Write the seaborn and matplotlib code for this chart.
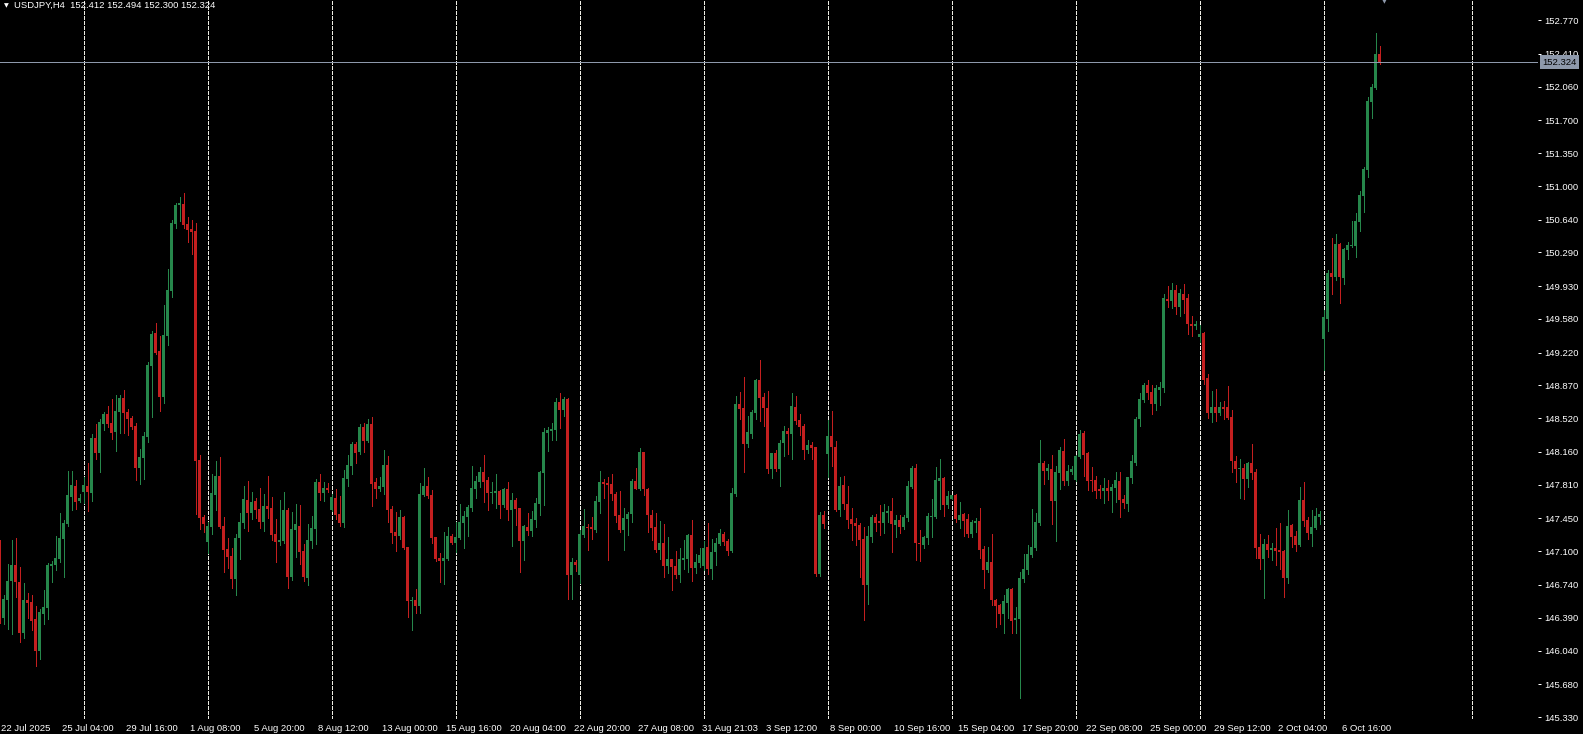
import numpy as np
import matplotlib
matplotlib.use("Agg")
import matplotlib.pyplot as plt
import matplotlib.transforms as mtransforms
import seaborn as sns

# USDJPY H4 candles (oldest first)
symbol = "USDJPY,H4"
opens = [
    147.149, 146.391, 146.580, 146.782, 146.953, 146.772, 146.227, 146.580, 146.558, 146.377,
    146.039, 146.430, 146.494, 146.943, 146.953, 147.017, 147.231, 147.391, 147.679, 147.797,
    147.640, 147.733, 147.797, 147.722, 148.309, 148.149, 148.459, 148.565, 148.469, 148.373,
    148.587, 148.736, 148.587, 148.523, 148.437, 147.989, 148.096, 148.320, 149.078, 149.430,
    149.238, 148.747, 149.398, 149.879, 150.594, 150.797, 150.808, 150.594, 150.541, 150.519,
    148.074, 147.466, 147.199, 147.359, 147.701, 147.904, 147.370, 147.124, 147.049, 146.804,
    147.242, 147.402, 147.647, 147.508, 147.637, 147.551, 147.412, 147.583, 147.562, 147.284,
    147.199, 147.210, 147.541, 146.825, 147.327, 147.370, 147.103, 146.815, 147.210, 147.338,
    147.839, 147.722, 147.775, 147.541, 147.669, 147.498, 147.402, 147.872, 148.010, 148.245,
    148.160, 148.427, 148.277, 148.458, 147.839, 147.764, 147.786, 148.020, 147.551, 147.305,
    147.262, 147.465, 147.145, 146.568, 146.579, 146.515, 147.700, 147.796, 147.700, 147.252,
    147.028, 146.995, 147.017, 147.262, 147.188, 147.241, 147.401, 147.465, 147.561, 147.764,
    147.839, 147.946, 147.860, 147.721, 147.721, 147.743, 147.593, 147.764, 147.540, 147.647,
    147.561, 147.209, 147.358, 147.316, 147.433, 147.604, 147.935, 148.362, 148.383, 148.394,
    148.693, 148.608, 148.725, 146.846, 146.985, 146.846, 147.273, 147.358, 147.358, 147.326,
    147.625, 147.839, 147.829, 147.818, 147.712, 147.487, 147.327, 147.445, 147.498, 147.850,
    147.765, 148.160, 147.765, 147.487, 147.359, 147.114, 147.189, 146.943, 147.018, 146.943,
    146.847, 147.007, 147.018, 147.274, 146.922, 146.975, 146.943, 147.146, 146.911, 147.092,
    147.178, 147.285, 147.209, 147.102, 147.711, 148.672, 148.629, 148.245, 148.351, 148.576,
    148.928, 148.746, 148.629, 147.978, 148.149, 147.978, 148.255, 148.384, 148.351, 148.640,
    148.501, 148.437, 148.181, 148.234, 148.213, 146.857, 147.487, 148.138, 148.330, 148.213,
    147.540, 147.807, 147.605, 147.445, 147.402, 147.380, 147.231, 146.740, 147.252, 147.466,
    147.423, 147.402, 147.509, 147.530, 147.380, 147.434, 147.359, 147.455, 147.786, 147.989,
    147.188, 147.167, 147.242, 147.466, 147.466, 147.850, 147.882, 147.594, 147.658, 147.701,
    147.434, 147.498, 147.444, 147.284, 147.402, 147.423, 147.124, 146.900, 146.985, 146.580,
    146.526, 146.430, 146.548, 146.697, 146.366, 146.377, 146.804, 146.900, 147.060, 147.135,
    147.402, 148.042, 147.957, 147.978, 147.637, 147.936, 148.170, 147.850, 147.946, 147.861,
    148.106, 148.363, 148.149, 147.861, 147.861, 147.765, 147.743, 147.775, 147.743, 147.775,
    147.850, 147.658, 147.604, 147.882, 148.042, 148.512, 148.715, 148.875, 148.800, 148.672,
    148.822, 148.843, 149.793, 149.772, 149.889, 149.708, 149.847, 149.804, 149.527, 149.505,
    149.388, 149.430, 148.949, 148.576, 148.640, 148.576, 148.640, 148.640, 148.533, 148.063,
    147.978, 147.989, 147.871, 148.042, 147.946, 147.145, 147.017, 147.177, 147.113, 147.134,
    147.113, 147.102, 146.814, 147.380, 147.262, 147.166, 147.647, 147.433, 147.284, 147.348,
    147.465, 149.367, 149.580, 150.071, 150.028, 150.381, 150.018, 150.317, 150.359, 150.359,
    150.616, 150.893, 151.171, 151.897, 152.046, 152.412,
]
highs = [
    147.220, 146.633, 146.964, 147.220, 147.241, 146.932, 146.761, 146.654, 146.633, 146.515,
    146.487, 146.686, 146.975, 146.996, 147.263, 147.508, 147.434, 147.957, 147.957, 147.861,
    147.711, 147.896, 148.042, 148.352, 148.459, 148.512, 148.587, 148.651, 148.726, 148.768,
    148.768, 148.822, 148.619, 148.544, 148.470, 148.192, 148.373, 149.121, 149.452, 149.537,
    149.398, 149.729, 150.114, 150.637, 150.818, 150.882, 150.925, 150.669, 150.637, 150.605,
    148.128, 147.487, 147.412, 147.925, 148.064, 148.106, 147.466, 147.242, 147.135, 147.284,
    147.509, 147.797, 147.850, 147.733, 147.669, 147.775, 147.711, 147.904, 147.679, 147.444,
    147.647, 147.733, 147.562, 147.519, 147.605, 147.594, 147.178, 147.391, 147.476, 147.872,
    147.925, 147.839, 147.829, 147.711, 147.765, 147.690, 147.968, 148.128, 148.267, 148.267,
    148.459, 148.469, 148.512, 148.533, 147.882, 147.892, 148.181, 148.117, 147.583, 147.519,
    147.540, 147.476, 147.145, 146.611, 146.697, 147.828, 147.988, 147.892, 147.754, 147.252,
    147.081, 147.305, 147.358, 147.284, 147.412, 147.604, 147.529, 147.593, 148.010, 147.903,
    147.999, 148.127, 147.892, 147.839, 147.924, 147.754, 147.775, 147.839, 147.721, 147.668,
    147.561, 147.380, 147.508, 147.529, 147.668, 147.956, 148.415, 148.426, 148.469, 148.736,
    148.789, 148.746, 148.736, 147.028, 147.006, 147.327, 147.551, 147.390, 147.465, 147.689,
    147.956, 147.871, 147.893, 147.925, 147.733, 147.744, 147.562, 147.520, 147.872, 147.989,
    148.203, 148.165, 147.776, 147.541, 147.509, 147.423, 147.391, 147.253, 147.020, 147.103,
    147.135, 147.221, 147.285, 147.434, 147.071, 147.135, 147.210, 147.402, 147.231, 147.242,
    147.338, 147.306, 147.230, 147.775, 148.757, 148.800, 148.960, 148.544, 148.608, 148.939,
    149.141, 148.789, 148.810, 148.150, 148.181, 148.287, 148.437, 148.415, 148.789, 148.757,
    148.565, 148.458, 148.287, 148.266, 148.215, 147.519, 147.529, 148.501, 148.597, 148.277,
    147.892, 147.903, 147.797, 147.562, 147.455, 147.402, 147.359, 147.370, 147.487, 147.498,
    147.594, 147.605, 147.583, 147.669, 147.487, 147.487, 147.487, 147.850, 148.010, 148.032,
    147.327, 147.263, 147.509, 147.658, 147.999, 148.085, 147.893, 147.744, 147.705, 147.712,
    147.626, 147.509, 147.498, 147.434, 147.455, 147.562, 147.156, 147.145, 147.284, 146.590,
    146.537, 146.633, 146.708, 146.708, 146.505, 146.879, 147.071, 147.167, 147.551, 147.508,
    148.288, 148.064, 148.032, 148.128, 148.010, 148.213, 148.299, 148.021, 148.010, 148.128,
    148.395, 148.384, 148.160, 147.999, 147.904, 147.807, 147.882, 147.861, 147.818, 147.946,
    147.946, 147.701, 147.895, 148.128, 148.533, 148.790, 148.897, 148.929, 148.875, 148.875,
    148.907, 149.847, 149.932, 149.964, 149.943, 149.900, 149.954, 149.847, 149.612, 149.558,
    149.516, 149.441, 148.992, 148.811, 148.832, 148.693, 148.704, 148.864, 148.608, 148.117,
    148.085, 148.031, 148.053, 148.245, 147.978, 147.284, 147.230, 147.273, 147.188, 147.348,
    147.401, 147.113, 147.540, 147.390, 147.316, 147.786, 147.839, 147.465, 147.540, 147.561,
    147.529, 149.676, 150.103, 150.445, 150.488, 150.392, 150.338, 150.402, 150.626, 150.712,
    150.947, 151.203, 151.950, 152.089, 152.634, 152.494,
]
lows = [
    146.331, 146.323, 146.266, 146.216, 146.615, 146.135, 146.177, 146.391, 146.259, 145.878,
    145.953, 146.327, 146.380, 146.775, 146.903, 146.989, 146.829, 147.373, 147.540, 147.548,
    147.629, 147.612, 147.530, 147.637, 148.085, 147.946, 148.395, 148.430, 148.299, 148.170,
    148.363, 148.363, 148.341, 148.405, 147.861, 147.818, 147.872, 148.267, 148.534, 149.206,
    148.598, 148.683, 149.302, 149.815, 150.551, 150.626, 150.551, 150.402, 150.274, 147.498,
    147.338, 147.306, 147.081, 147.284, 147.541, 147.350, 146.879, 146.921, 146.708, 146.633,
    147.017, 147.348, 147.316, 147.444, 147.455, 147.348, 147.316, 147.455, 147.220, 146.985,
    147.167, 147.188, 146.708, 146.793, 147.039, 146.964, 146.782, 146.740, 147.135, 147.178,
    147.647, 147.637, 147.733, 147.530, 147.444, 147.370, 147.359, 147.797, 147.925, 148.042,
    148.138, 148.160, 148.266, 147.583, 147.668, 147.743, 147.711, 147.412, 147.188, 147.102,
    147.230, 147.124, 146.398, 146.259, 146.440, 146.440, 147.690, 147.668, 147.188, 146.995,
    146.771, 146.750, 147.006, 147.177, 147.092, 147.230, 147.134, 147.262, 147.529, 147.668,
    147.786, 147.625, 147.540, 147.615, 147.561, 147.455, 147.572, 147.433, 147.156, 147.380,
    146.878, 147.006, 147.273, 147.262, 147.358, 147.487, 147.593, 148.170, 148.287, 148.287,
    148.415, 148.544, 146.590, 146.590, 146.889, 146.761, 147.252, 147.113, 147.230, 147.305,
    147.508, 147.668, 147.007, 147.648, 147.413, 147.306, 147.114, 147.274, 147.413, 147.760,
    147.754, 147.701, 147.306, 147.221, 147.092, 147.018, 146.826, 146.868, 146.687, 146.815,
    146.772, 146.911, 146.879, 146.783, 146.868, 146.932, 146.900, 146.858, 146.804, 146.954,
    147.167, 147.167, 147.059, 147.090, 147.689, 148.512, 147.946, 148.213, 148.309, 148.512,
    148.490, 148.437, 147.935, 147.882, 147.956, 147.796, 148.117, 148.138, 148.084, 148.458,
    148.341, 148.084, 148.149, 148.084, 146.835, 146.835, 147.348, 147.892, 148.010, 147.529,
    147.476, 147.551, 147.348, 147.220, 147.167, 146.825, 146.366, 146.537, 147.199, 147.316,
    147.274, 147.295, 147.413, 147.092, 147.252, 147.295, 147.338, 147.423, 147.776, 147.007,
    146.996, 147.135, 147.178, 147.252, 147.460, 147.551, 147.477, 147.562, 147.654, 147.413,
    147.348, 147.263, 147.252, 147.252, 147.306, 147.028, 146.708, 146.879, 146.526, 146.291,
    146.323, 146.227, 146.387, 146.227, 146.227, 145.530, 146.772, 146.857, 147.039, 147.113,
    147.380, 147.818, 147.872, 147.391, 147.210, 147.765, 147.807, 147.807, 147.925, 147.850,
    148.096, 147.904, 147.754, 147.743, 147.669, 147.669, 147.615, 147.647, 147.519, 147.626,
    147.466, 147.562, 147.530, 147.829, 148.021, 148.437, 148.694, 148.726, 148.566, 148.608,
    148.662, 148.800, 149.708, 149.697, 149.633, 149.612, 149.644, 149.420, 149.398, 149.473,
    149.334, 148.886, 148.522, 148.480, 148.490, 148.554, 148.512, 148.510, 147.946, 147.839,
    147.668, 147.658, 147.786, 147.871, 147.028, 146.910, 146.600, 147.038, 147.006, 146.953,
    146.910, 146.611, 146.761, 147.145, 147.102, 147.160, 147.369, 147.230, 147.156, 147.340,
    147.391, 149.035, 149.452, 149.847, 149.996, 149.751, 149.954, 150.221, 150.349, 150.242,
    150.520, 150.723, 151.096, 151.726, 152.040, 152.300,
]
closes = [
    146.384, 146.590, 146.782, 146.953, 146.772, 146.227, 146.580, 146.551, 146.355, 146.039,
    146.451, 146.505, 146.953, 146.964, 147.028, 147.241, 147.402, 147.701, 147.807, 147.629,
    147.669, 147.807, 147.733, 148.309, 148.149, 148.480, 148.565, 148.459, 148.363, 148.597,
    148.736, 148.576, 148.512, 148.427, 147.989, 148.106, 148.331, 149.089, 149.420, 149.217,
    148.747, 149.409, 149.890, 150.605, 150.797, 150.818, 150.584, 150.530, 150.509, 148.064,
    147.455, 147.391, 147.370, 147.722, 147.904, 147.359, 147.113, 147.039, 146.804, 147.242,
    147.412, 147.658, 147.508, 147.626, 147.541, 147.412, 147.583, 147.551, 147.274, 147.199,
    147.220, 147.541, 146.825, 147.338, 147.391, 147.092, 146.825, 147.220, 147.348, 147.839,
    147.722, 147.775, 147.754, 147.679, 147.487, 147.402, 147.882, 148.021, 148.245, 148.149,
    148.427, 148.277, 148.458, 147.818, 147.764, 147.796, 148.020, 147.540, 147.294, 147.262,
    147.465, 147.134, 146.568, 146.579, 146.515, 147.711, 147.796, 147.689, 147.241, 147.017,
    146.995, 147.028, 147.262, 147.188, 147.252, 147.412, 147.476, 147.572, 147.775, 147.850,
    147.946, 147.839, 147.721, 147.732, 147.743, 147.593, 147.764, 147.540, 147.647, 147.551,
    147.209, 147.369, 147.316, 147.444, 147.615, 147.946, 148.373, 148.394, 148.405, 148.693,
    148.608, 148.725, 146.846, 146.985, 146.953, 147.284, 147.369, 147.348, 147.337, 147.636,
    147.839, 147.818, 147.808, 147.712, 147.477, 147.327, 147.455, 147.498, 147.850, 147.765,
    148.160, 147.765, 147.487, 147.349, 147.114, 147.189, 146.943, 147.018, 146.932, 146.847,
    147.018, 147.028, 147.274, 146.922, 146.986, 147.060, 147.135, 146.911, 147.092, 147.189,
    147.295, 147.199, 147.102, 147.721, 148.672, 148.618, 148.245, 148.373, 148.586, 148.928,
    148.736, 148.629, 147.978, 148.149, 147.978, 148.255, 148.384, 148.351, 148.650, 148.490,
    148.426, 148.181, 148.234, 148.202, 146.857, 147.487, 147.390, 148.330, 148.213, 147.540,
    147.796, 147.604, 147.434, 147.391, 147.370, 147.220, 146.740, 147.263, 147.466, 147.402,
    147.402, 147.519, 147.530, 147.391, 147.434, 147.359, 147.466, 147.797, 147.989, 147.188,
    147.178, 147.252, 147.477, 147.477, 147.861, 147.882, 147.594, 147.690, 147.701, 147.445,
    147.487, 147.423, 147.284, 147.412, 147.423, 147.113, 146.900, 146.985, 146.580, 146.516,
    146.430, 146.569, 146.697, 146.355, 146.387, 146.814, 146.911, 147.071, 147.145, 147.412,
    148.042, 147.957, 147.989, 147.637, 147.946, 148.181, 147.850, 147.957, 147.978, 148.117,
    148.352, 148.128, 147.850, 147.850, 147.743, 147.743, 147.775, 147.743, 147.786, 147.861,
    147.647, 147.615, 147.893, 148.064, 148.512, 148.726, 148.875, 148.790, 148.672, 148.843,
    148.854, 149.804, 149.772, 149.889, 149.708, 149.857, 149.783, 149.527, 149.505, 149.527,
    149.420, 148.929, 148.576, 148.640, 148.576, 148.640, 148.619, 148.522, 148.063, 147.978,
    147.989, 147.871, 148.042, 147.935, 147.134, 147.017, 147.177, 147.113, 147.134, 147.102,
    147.092, 146.814, 147.369, 147.252, 147.166, 147.647, 147.423, 147.295, 147.358, 147.476,
    147.497, 149.601, 150.071, 150.028, 150.381, 150.028, 150.327, 150.370, 150.370, 150.626,
    150.904, 151.182, 151.908, 152.057, 152.412, 152.324,
]

# time axis labels, one every 16 bars starting at the first bar
date_labels = [
    "22 Jul 2025", "25 Jul 04:00", "29 Jul 16:00", "1 Aug 08:00", "5 Aug 20:00",
    "8 Aug 12:00", "13 Aug 00:00", "15 Aug 16:00", "20 Aug 04:00", "22 Aug 20:00",
    "27 Aug 08:00", "31 Aug 21:03", "3 Sep 12:00", "8 Sep 00:00", "10 Sep 16:00",
    "15 Sep 04:00", "17 Sep 20:00", "22 Sep 08:00", "25 Sep 00:00", "29 Sep 12:00",
    "2 Oct 04:00", "6 Oct 16:00",
]
label_step = 16
# bars that open a new week (grid separators), last one sits in the empty future area
week_starts = [21, 52, 83, 114, 145, 176, 207, 238, 269, 300, 331, 368]
price_ticks = [152.770, 152.410, 152.060, 151.700, 151.350, 151.000, 150.640, 150.290,
               149.930, 149.580, 149.220, 148.870, 148.520, 148.160, 147.810, 147.450,
               147.100, 146.740, 146.390, 146.040, 145.680, 145.330]
last_price = 152.324
price_range = (145.309, 152.986)

sns.set_theme(style="dark", rc={"axes.facecolor": "black", "figure.facecolor": "black"})
plt.rcParams['font.family'] = ['Liberation Sans', 'DejaVu Sans']

W, H = 1583, 734
fig = plt.figure(figsize=(W / 100, H / 100), dpi=100)
plot_w, plot_h = 1538, 719
ax = fig.add_axes([0, (H - plot_h) / H, plot_w / W, plot_h / H])
ax.set_facecolor("black")

o = np.array(opens)
h = np.array(highs)
l = np.array(lows)
c = np.array(closes)
idx = np.arange(len(o))
bull, bear = "#26874B", "#C41F1F"
colors = np.where(c >= o, bull, bear)

# week separators behind the candles
ax.vlines(week_starts, price_range[0], price_range[1], colors="#EDEDE4",
          linestyles=(0, (3, 2)), linewidth=0.72, antialiased=False, zorder=1)

ax.vlines(idx, l, h, colors=colors, linewidth=0.72, antialiased=False, zorder=2)
body_lo = np.minimum(o, c)
body_h = np.maximum(np.abs(c - o), 0.011)
ax.bar(idx, body_h, bottom=body_lo, width=0.75, color=colors, linewidth=0,
       antialiased=False, zorder=3)

ax.axhline(last_price, color="#8E99AB", linewidth=0.72, antialiased=False, zorder=4)

# 4 px per bar
x0 = 0.125
ax.set_xlim(x0, x0 + plot_w / 4)
ax.set_ylim(*price_range)

ax.grid(False)
for side in ["top", "left", "right", "bottom"]:
    ax.spines[side].set_visible(False)

ax.yaxis.tick_right()
ax.set_yticks(price_ticks, [f"{p:.3f}" for p in price_ticks])
ax.set_xticks(np.arange(len(date_labels)) * label_step, date_labels)
ax.tick_params(axis="y", colors="white", length=2.2, width=0.72, pad=2.5, labelsize=6.8)
ax.tick_params(axis="x", colors="white", length=2.2, width=0.72, pad=1.2, labelsize=6.8)
shift = mtransforms.ScaledTranslation(-2 / 100, 0, fig.dpi_scale_trans)
first_shift = mtransforms.ScaledTranslation(1 / 100, 0, fig.dpi_scale_trans)
for k, lbl in enumerate(ax.get_xticklabels()):
    lbl.set_horizontalalignment("left")
    lbl.set_transform(lbl.get_transform() + (first_shift if k == 0 else shift))

# current price tag on the price scale
tag_tr = mtransforms.blended_transform_factory(ax.transAxes, ax.transData)
tag_shift = mtransforms.ScaledTranslation(4 / 100, 0, fig.dpi_scale_trans)
ax.text(1.0, last_price, f"{last_price:.3f}", transform=tag_tr + tag_shift, ha="left",
        va="center", fontsize=6.8, color="black", clip_on=False, zorder=6,
        bbox=dict(boxstyle="square,pad=0.25", fc="#8E99AB", ec="none"))

# chart header
fig.text(4 / W, 1 - 5.5 / H, "\u25BC", fontsize=4.5, color="white", va="center",
         family=["DejaVu Sans"])
fig.text(14 / W, 1 - 5.5 / H,
         f"{symbol}  {opens[-1]:.3f} {highs[-1]:.3f} {lows[-1]:.3f} {closes[-1]:.3f}",
         fontsize=6.8, color="white", va="center")
# chart shift marker at the top edge
fig.text(1384 / W, 1 - 1.5 / H, "\u25BC", fontsize=4.5, color="#8E99AB", ha="center",
         va="center", family=["DejaVu Sans"])

fig.savefig("out.png", dpi=100, facecolor="black")
